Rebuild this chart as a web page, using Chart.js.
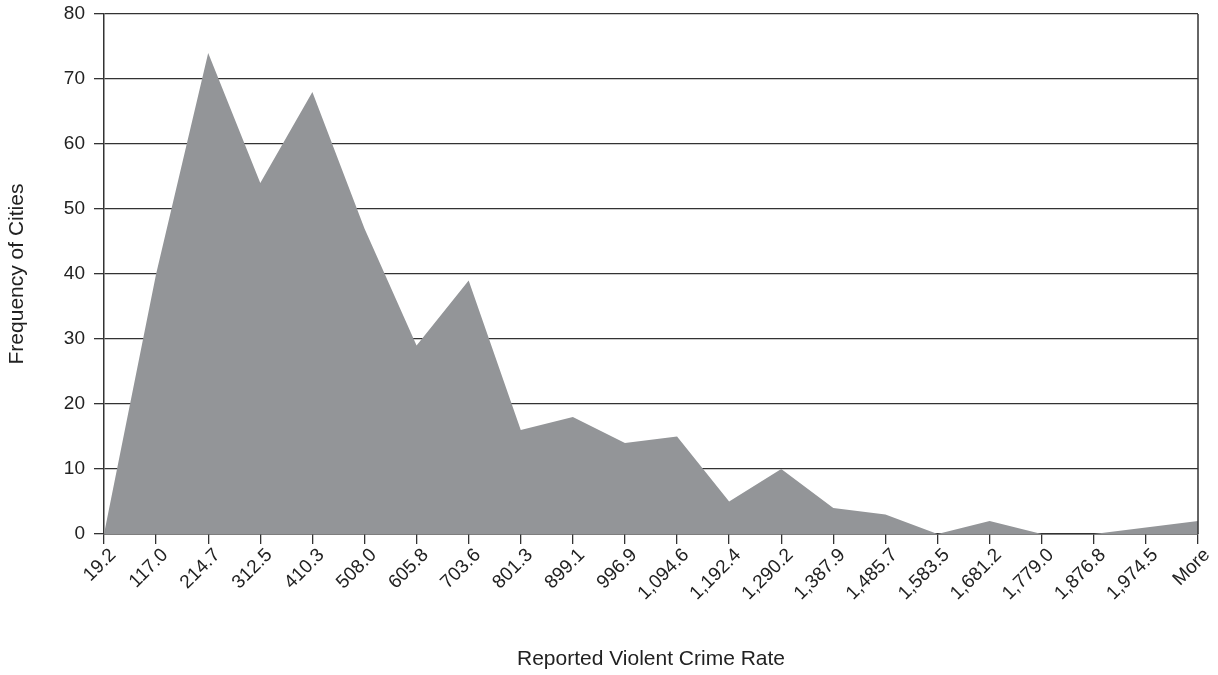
<!DOCTYPE html>
<html lang="en">
<head>
    <meta charset="UTF-8">
    <title>Reported Violent Crime Rate</title>
    <style>
        body {
            margin: 0;
            background-color: #fff;
        }
        #wrap {
            width: 1218px;
            height: 675px;
        }
    </style>
    <script src="https://cdn.jsdelivr.net/npm/chart.js"></script>
</head>
<body>
    <div id="wrap">
        <canvas id="chart"></canvas>
    </div>

    <script>
        // bin upper limits and city counts
        const binLabels = ['19.2', '117.0', '214.7', '312.5', '410.3', '508.0', '605.8', '703.6',
            '801.3', '899.1', '996.9', '1,094.6', '1,192.4', '1,290.2', '1,387.9', '1,485.7',
            '1,583.5', '1,681.2', '1,779.0', '1,876.8', '1,974.5', 'More'];
        const cityCounts = [0, 40, 74, 54, 68, 47, 29, 39, 16, 18, 14, 15, 5, 10, 4, 3, 0, 2, 0, 0, 1, 2];
        const yMin = 0;
        const yMax = 80;
        const yStep = 10;

        const lineColor = '#333';
        const font = 'Liberation Sans, Arial, sans-serif';

        // right edge of the plot box
        const framePlugin = {
            id: 'frame',
            afterDraw(chart) {
                const { ctx, chartArea } = chart;
                ctx.save();
                ctx.strokeStyle = lineColor;
                ctx.lineWidth = 1.5;
                ctx.beginPath();
                ctx.moveTo(chartArea.right, chartArea.top);
                ctx.lineTo(chartArea.right, chartArea.bottom);
                ctx.stroke();
                ctx.restore();
            }
        };

        const ctx = document.getElementById('chart').getContext('2d');
        new Chart(ctx, {
            type: 'line',
            data: {
                labels: binLabels,
                datasets: [{
                    label: 'Frequency',
                    data: cityCounts,
                    fill: 'origin',
                    backgroundColor: '#939598',
                    borderWidth: 0,
                    pointRadius: 0,
                    tension: 0
                }]
            },
            options: {
                responsive: true,
                maintainAspectRatio: false,
                animation: false,
                layout: {
                    padding: { top: 14, right: 20, left: 0, bottom: 0 }
                },
                plugins: {
                    legend: { display: false },
                    tooltip: { enabled: false }
                },
                scales: {
                    x: {
                        offset: false,
                        z: 1,
                        grid: {
                            drawOnChartArea: false,
                            drawTicks: true,
                            tickLength: 10,
                            color: lineColor,
                            lineWidth: 1.3
                        },
                        border: { color: lineColor, width: 1.5 },
                        ticks: {
                            autoSkip: false,
                            maxRotation: 45,
                            minRotation: 45,
                            padding: 0,
                            labelOffset: 9,
                            color: '#222',
                            font: { family: font, size: 19 }
                        },
                        title: {
                            display: true,
                            text: 'Reported Violent Crime Rate',
                            color: '#222',
                            padding: { top: 0, bottom: 3 },
                            font: { family: font, size: 21 }
                        },
                        afterFit(scale) {
                            scale.height = 141;
                            scale.paddingLeft = 0;
                            scale.paddingRight = 0;
                        }
                    },
                    y: {
                        min: yMin,
                        max: yMax,
                        grid: {
                            color: lineColor,
                            lineWidth: 1.3,
                            tickLength: 10
                        },
                        border: { color: lineColor, width: 1.5 },
                        ticks: {
                            stepSize: yStep,
                            padding: 9,
                            color: '#222',
                            font: { family: font, size: 19 }
                        },
                        title: {
                            display: true,
                            text: 'Frequency of Cities',
                            color: '#222',
                            padding: { top: 5, bottom: 0 },
                            font: { family: font, size: 21 }
                        },
                        afterFit(scale) {
                            scale.width = 104;
                            scale.paddingTop = 0;
                            scale.paddingBottom = 0;
                        }
                    }
                }
            },
            plugins: [framePlugin]
        });
    </script>
</body>
</html>
